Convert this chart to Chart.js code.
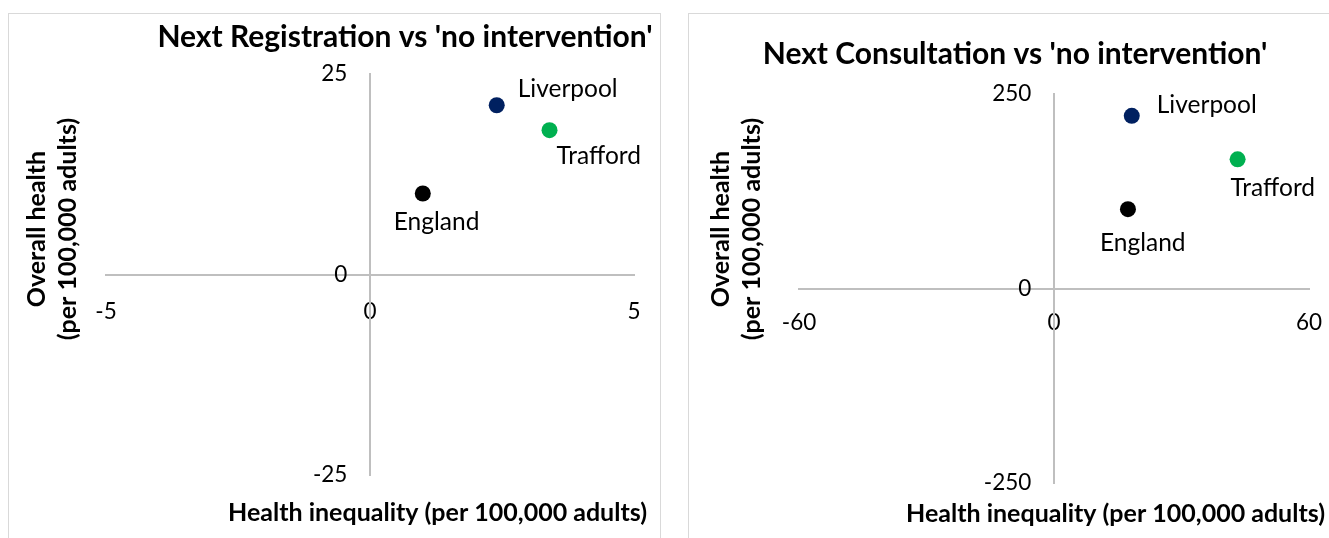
<!DOCTYPE html>
<html>
<head>
<meta charset="utf-8">
<title>Next Registration / Next Consultation vs 'no intervention'</title>
<script src="https://cdn.jsdelivr.net/npm/chart.js@4.4.1/dist/chart.umd.min.js"></script>
<style>
  html, body { margin: 0; padding: 0; background: #fff; overflow: hidden; }
  body { width: 1329px; height: 538px; position: relative; }
  .panel { position: absolute; top: 13px; height: 600px; border: 1px solid #d9d9d9; background: #fff; }
  #panelReg { left: 8px; width: 651px; }
  #panelCon { left: 688px; width: 680px; }
  .panel canvas { position: absolute; left: 0; top: 0; }
</style>
</head>
<body>
<div class="panel" id="panelReg"><canvas id="regChart" width="665" height="524"></canvas></div>
<div class="panel" id="panelCon"><canvas id="conChart" width="665" height="524"></canvas></div>
<script>
const AREAS = ["England", "Liverpool", "Trafford"];
const AREA_COLORS = ["#000000", "#002060", "#00B050"];

// Next Registration
const REG_INEQUALITY = [1.0, 2.4, 3.4];
const REG_HEALTH = [10.1, 21.1, 18.0];
const REG_X_TICKS = [-5, 0, 5];
const REG_Y_TICKS = [-25, 0, 25];

// Next Consultation
const CON_INEQUALITY = [17.4, 18.3, 43.2];
const CON_HEALTH = [102, 222, 166];
const CON_X_TICKS = [-60, 0, 60];
const CON_Y_TICKS = [-250, 0, 250];

const X_TITLE = "Health inequality (per 100,000 adults)";
const Y_TITLE = ["Overall health", "(per 100,000 adults)"];

const FONT = "Lato";
const AXIS_COLOR = "#BFBFBF";

// titles, axis titles and point names are placed freely, like in the Excel original
const excelText = {
  id: "excelText",
  afterDraw(chart, args, opts) {
    const ctx = chart.ctx;
    ctx.save();
    ctx.fillStyle = "#000";
    ctx.textBaseline = "alphabetic";

    ctx.font = `bold ${opts.titleSize}px ${FONT}`;
    ctx.textAlign = "center";
    ctx.fillText(opts.title, opts.titlePos[0], opts.titlePos[1]);

    ctx.font = `bold ${opts.axisSize}px ${FONT}`;
    ctx.textAlign = "right";
    ctx.fillText(X_TITLE, opts.xTitlePos[0], opts.xTitlePos[1]);

    ctx.textAlign = "center";
    Y_TITLE.forEach((line, i) => {
      ctx.save();
      ctx.translate(opts.yTitleX[i], opts.yTitleY);
      ctx.rotate(-Math.PI / 2);
      ctx.fillText(line, 0, 0);
      ctx.restore();
    });

    ctx.font = `${opts.labelSize}px ${FONT}`;
    ctx.textAlign = "left";
    const meta = chart.getDatasetMeta(0);
    meta.data.forEach((pt, i) => {
      const off = opts.labelOffsets[i];
      ctx.fillText(AREAS[i], pt.x + off[0], pt.y + off[1]);
    });
    ctx.restore();
  },
};

function makeScale(ticks, cross, pad, callback) {
  return {
    type: "linear",
    min: ticks[0],
    max: ticks[ticks.length - 1],
    position: cross,
    grid: { display: false, drawTicks: false },
    border: { color: AXIS_COLOR, width: 2 },
    ticks: {
      stepSize: ticks[1] - ticks[0],
      padding: pad,
      color: "#000",
      font: { family: FONT, size: 22.5 },
      callback: callback,
    },
  };
}

// a centred y axis ignores ticks.padding, so keep the gap with trailing spaces
const yLabel = (v) => v + "\u2003 ";

function makeChart(id, xs, ys, xTicks, yTicks, xPad, padding, text) {
  const points = xs.map((x, i) => ({ x: x, y: ys[i] }));
  return new Chart(document.getElementById(id), {
    type: "scatter",
    data: {
      datasets: [
        {
          data: points,
          backgroundColor: AREA_COLORS,
          borderWidth: 0,
          pointRadius: 8,
          pointHoverRadius: 8,
        },
      ],
    },
    options: {
      responsive: false,
      animation: false,
      layout: { padding: padding },
      plugins: {
        legend: { display: false },
        tooltip: { enabled: false },
        excelText: text,
      },
      scales: {
        x: makeScale(xTicks, { y: 0 }, xPad),
        y: makeScale(yTicks, { x: 0 }, 0, yLabel),
      },
    },
    plugins: [excelText],
  });
}

makeChart("regChart", REG_INEQUALITY, REG_HEALTH, REG_X_TICKS, REG_Y_TICKS, 24,
  { left: 97, right: 40, top: 60, bottom: 63 },
  {
    title: "Next Registration vs 'no intervention'",
    titleSize: 30, titlePos: [396, 33],
    axisSize: 25, xTitlePos: [638, 507],
    yTitleX: [36, 67], yTitleY: 215,
    labelSize: 24.5,
    labelOffsets: [[-29, 37], [21, -8], [7, 34]],
  });

makeChart("conChart", CON_INEQUALITY, CON_HEALTH, CON_X_TICKS, CON_Y_TICKS, 21,
  { left: 110, right: 45, top: 80, bottom: 55 },
  {
    title: "Next Consultation vs 'no intervention'",
    titleSize: 30, titlePos: [326, 50],
    axisSize: 25, xTitlePos: [636, 508],
    yTitleX: [40, 71], yTitleY: 215,
    labelSize: 24.5,
    labelOffsets: [[-28, 42], [25, -3], [-7, 37]],
  });
</script>
</body>
</html>
